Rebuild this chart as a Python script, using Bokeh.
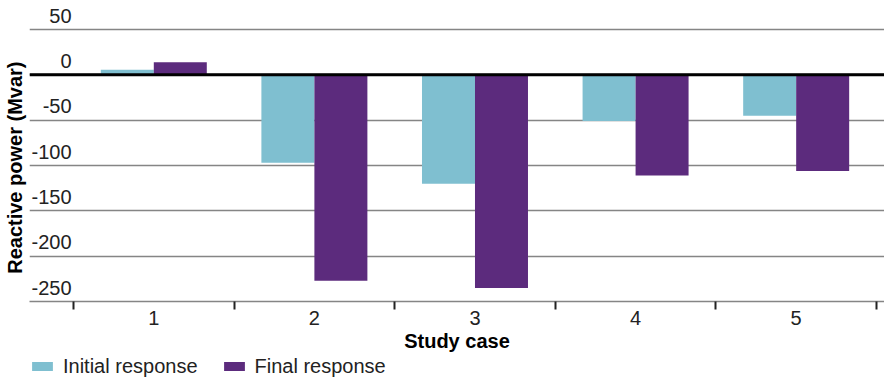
from bokeh.plotting import figure
from bokeh.layouts import column
from bokeh.models import Range1d, FixedTicker, Span, Legend, LegendItem, ColumnDataSource
from bokeh.transform import dodge
from bokeh.core.properties import value
from bokeh.embed import file_html
from bokeh.resources import INLINE

# ---- data ----
cases = ["1", "2", "3", "4", "5"]
initial = [5.5, -97, -120, -51, -45]
final = [14, -227, -235, -111, -106]
y_ticks = [50, 0, -50, -100, -150, -200, -250]
y_tick_labels = ["50", "0", "-50", "-100", "-150", "-200", "-250"]
series_names = ["Initial response", "Final response"]
x_title = "Study case"
y_title = "Reactive power (Mvar)"

FONT = "Liberation Sans"
C_INIT = "#7FBFD0"
C_FINAL = "#5C2B7D"
TXT = "#222222"
GRID = "#858585"

pos = [i + 1 for i in range(len(cases))]
src = ColumnDataSource(dict(pos=pos, case=cases, initial=initial, final=final))

p = figure(width=884, height=358, frame_width=855, frame_height=301,
           output_backend="svg", toolbar_location=None,
           x_range=Range1d(0.226, 5.55), y_range=Range1d(-250, 82),
           min_border_left=29, min_border_right=0, min_border_top=0, min_border_bottom=0)
p.outline_line_color = None
p.background_fill_color = "white"
p.border_fill_color = "white"

# grid
p.xgrid.visible = False
p.ygrid.ticker = FixedTicker(ticks=y_ticks)
p.ygrid.grid_line_color = GRID
p.ygrid.grid_line_width = 1.5

# bars
bw = 0.33
r1 = p.vbar(x=dodge("pos", -bw / 2), top="initial", bottom=0, width=bw, source=src,
            fill_color=C_INIT, line_color=None)
r2 = p.vbar(x=dodge("pos", bw / 2), top="final", bottom=0, width=bw, source=src,
            fill_color=C_FINAL, line_color=None)

# zero line
p.add_layout(Span(location=0, dimension="width", line_color="black", line_width=3))

# y tick labels drawn above gridlines
p.text(x=0.488, y=y_ticks, text=y_tick_labels, text_align="right", text_baseline="alphabetic",
       y_offset=-14, text_font=value(FONT), text_font_size="20px", text_color=TXT)

# y axis: title only
ya = p.yaxis[0]
ya.ticker = FixedTicker(ticks=[])
ya.axis_line_color = None
ya.major_tick_out = 0
ya.major_tick_in = 0
ya.minor_tick_out = 0
ya.minor_tick_in = 0
ya.axis_label = y_title + "\u00a0" * 6
ya.axis_label_standoff = 4
ya.axis_label_text_font = FONT
ya.axis_label_text_font_size = "20px"
ya.axis_label_text_font_style = "bold"
ya.axis_label_text_color = "black"

# x axis
xa = p.xaxis[0]
boundaries = [v - 0.5 for v in pos] + [pos[-1] + 0.5]
xa.ticker = FixedTicker(ticks=pos, minor_ticks=boundaries)
xa.major_label_overrides = {v: c for v, c in zip(pos, cases)}
xa.major_tick_line_color = None
xa.major_tick_out = 8
xa.major_tick_in = 0
xa.minor_tick_out = 8
xa.minor_tick_in = 0
xa.minor_tick_line_width = 2
xa.minor_tick_line_color = TXT
xa.axis_line_color = GRID
xa.axis_line_width = 1.5
xa.major_label_standoff = 1
xa.major_label_text_font = FONT
xa.major_label_text_font_size = "20px"
xa.major_label_text_color = TXT
xa.axis_label = x_title
xa.axis_label_standoff = 2
xa.axis_label_text_font = FONT
xa.axis_label_text_font_size = "20px"
xa.axis_label_text_font_style = "bold"
xa.axis_label_text_color = "black"

# legend strip (separate small figure under the chart); its ranges keep the
# helper bars out of view so only the legend swatches and labels show
lg = figure(width=884, height=23, output_backend="svg", toolbar_location=None,
            x_range=Range1d(100, 101), y_range=Range1d(1000, 1001),
            x_axis_location=None, y_axis_location=None,
            min_border_left=28, min_border_right=0, min_border_top=0, min_border_bottom=0)
lg.outline_line_color = None
lg.grid.visible = False
lsrc = ColumnDataSource(dict(pos=pos, initial=initial, final=final))
l1 = lg.vbar(x="pos", top="initial", bottom=0, width=bw, source=lsrc,
             fill_color=C_INIT, line_color=None)
l2 = lg.vbar(x="pos", top="final", bottom=0, width=bw, source=lsrc,
             fill_color=C_FINAL, line_color=None)
legend = Legend(items=[LegendItem(label=series_names[0], renderers=[l1]),
                       LegendItem(label=series_names[1], renderers=[l2])],
                orientation="horizontal", location="center_left",
                glyph_width=26, glyph_height=11, label_standoff=8, spacing=23,
                margin=0, padding=0, border_line_color=None, background_fill_alpha=0,
                label_text_font=FONT, label_text_font_size="20px", label_text_color=TXT)
lg.add_layout(legend, "center")

layout = column(p, lg, spacing=0)
open("out.html", "w").write(file_html(layout, INLINE))
